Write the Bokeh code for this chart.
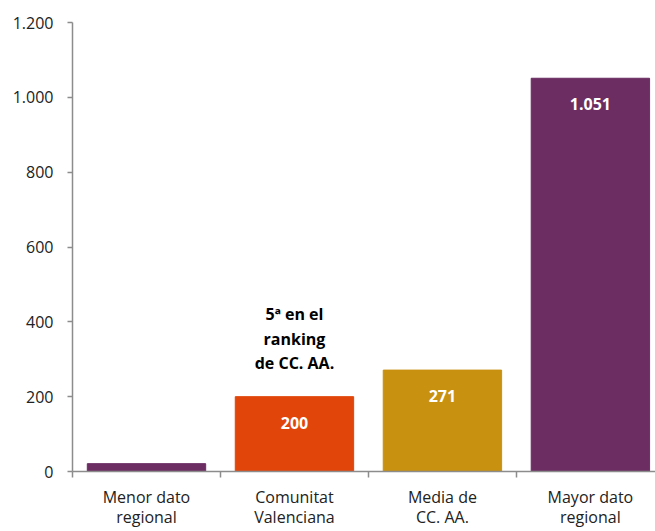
from bokeh.plotting import figure
from bokeh.models import ColumnDataSource, FixedTicker, Range1d
from bokeh.core.properties import value
from bokeh.embed import file_html
from bokeh.resources import INLINE

categories = ["Menor dato\nregional", "Comunitat\nValenciana", "Media de\nCC. AA.", "Mayor dato\nregional"]
values = [21, 200, 271, 1051]
value_labels = ["", "200", "271", "1.051"]
colors = ["#6B2D62", "#E2450A", "#C8910F", "#6B2D62"]
y_ticks = [0, 200, 400, 600, 800, 1000, 1200]
y_tick_labels = ["0", "200", "400", "600", "800", "1.000", "1.200"]
note_text = "5ª en el\nranking\nde CC. AA."
note_index = 1

FONT = "Open Sans"

xs = [i + 0.5 for i in range(len(categories))]
src = ColumnDataSource(dict(x=xs, top=values, color=colors, lab=value_labels))

p = figure(width=655, height=531, output_backend="svg", toolbar_location=None,
           x_range=Range1d(0, 3.94), y_range=Range1d(0, 1200),
           min_border_left=72, min_border_top=22, min_border_bottom=59, min_border_right=0)
p.outline_line_color = None
p.xgrid.grid_line_color = None
p.ygrid.grid_line_color = None
p.background_fill_color = "white"

p.vbar(x="x", top="top", width=0.8, bottom=0, color="color", source=src)

p.text(x="x", y="top", text="lab", source=src, y_offset=26,
       text_align="center", text_baseline="middle", text_color="white",
       text_font=value(FONT), text_font_style="bold", text_font_size="16px")

p.text(x=[xs[note_index]], y=[values[note_index]], text=[note_text], y_offset=-58,
       text_align="center", text_baseline="middle", text_color="black",
       text_font=value(FONT), text_font_style="bold", text_font_size="16px",
       text_line_height=1.1)

axis_color = "#8C8C8C"
# y axis
p.yaxis.ticker = FixedTicker(ticks=y_ticks)
p.yaxis.major_label_overrides = {t: l for t, l in zip(y_ticks, y_tick_labels)}
p.yaxis.axis_line_color = axis_color
p.yaxis.axis_line_width = 1.5
p.yaxis.major_tick_line_color = axis_color
p.yaxis.major_tick_line_width = 1.5
p.yaxis.major_tick_out = 5
p.yaxis.major_tick_in = 0
p.yaxis.minor_tick_line_color = None
p.yaxis.major_label_standoff = 14
p.yaxis.major_label_text_font = FONT
p.yaxis.major_label_text_font_size = "16px"
p.yaxis.major_label_text_color = "#222222"

# x axis
p.xaxis.ticker = FixedTicker(ticks=xs, minor_ticks=[0, 1, 2, 3])
p.xaxis.major_label_overrides = {x: c for x, c in zip(xs, categories)}
p.xaxis.axis_line_color = axis_color
p.xaxis.axis_line_width = 1.5
p.xaxis.major_tick_line_color = None
p.xaxis.minor_tick_line_color = axis_color
p.xaxis.minor_tick_line_width = 1.5
p.xaxis.minor_tick_out = 6
p.xaxis.minor_tick_in = 0
p.xaxis.major_label_standoff = 8
p.xaxis.major_label_text_font = FONT
p.xaxis.major_label_text_font_size = "16px"
p.xaxis.major_label_text_color = "#222222"
p.xaxis.major_label_text_line_height = 0.95

open("out.html", "w").write(file_html(p, INLINE))
